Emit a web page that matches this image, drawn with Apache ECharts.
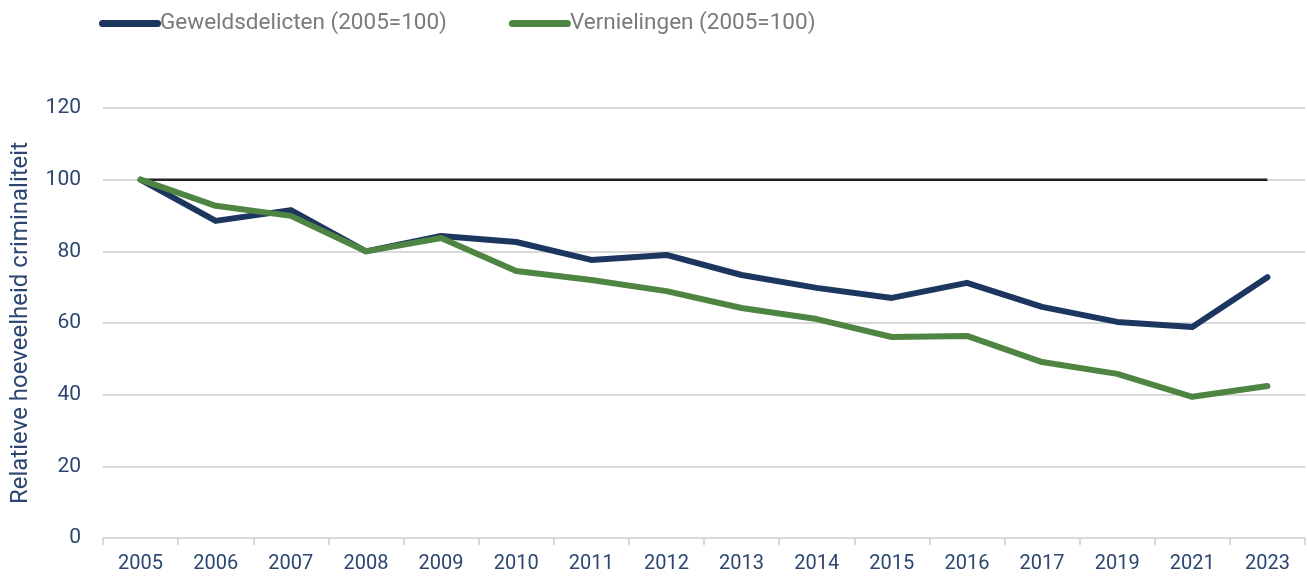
<!DOCTYPE html>
<html><head><meta charset="utf-8">
<script src="https://cdn.jsdelivr.net/npm/echarts@6/dist/echarts.min.js"></script>
<style>html,body{margin:0;padding:0;background:#fff}#c{width:1307px;height:576px}</style>
</head><body><div id="c"></div>
<script>
const categories = ['2005','2006','2007','2008','2009','2010','2011','2012','2013','2014','2015','2016','2017','2019','2021','2023'];
const geweld = [100, 88.5, 91.5, 80, 84.3, 82.6, 77.6, 79, 73.4, 69.8, 67, 71.2, 64.5, 60.3, 58.9, 72.8];
const vernielingen = [100, 92.7, 89.9, 80, 83.7, 74.5, 72, 68.9, 64.2, 61.1, 56.1, 56.4, 49.1, 45.8, 39.4, 42.4];
const baseline = [100,100,100,100,100,100,100,100,100,100,100,100,100,100,100,100];
const yTicks = [0, 20, 40, 60, 80, 100, 120];

const navy = '#1c365f', green = '#4f8542', labelColor = '#2c4670';
const chart = echarts.init(document.getElementById('c'));
chart.setOption({
  animation: false,
  textStyle: {fontFamily: 'Roboto'},
  legend: {
    left: 94, top: 7, itemGap: 62, itemWidth: 62, itemHeight: 7,
    icon: 'path://M3.5,0 L58.5,0 A3.5,3.5 0 0 1 58.5,7 L3.5,7 A3.5,3.5 0 0 1 3.5,0 Z',
    data: ['Geweldsdelicten (2005=100)', 'Vernielingen (2005=100)'],
    textStyle: {color: '#7a7a7a', fontSize: 22.5, padding: [0,0,0,-6]}
  },
  grid: {left: 103, right: 2, top: 108, bottom: 38, containLabel: false},
  xAxis: {
    type: 'category', data: categories, boundaryGap: true,
    axisLine: {lineStyle: {color: '#d9d9d9', width: 2}},
    axisTick: {show: true, length: 7, lineStyle: {color: '#d9d9d9', width: 2}},
    axisLabel: {color: labelColor, fontSize: 20, margin: 16}
  },
  yAxis: {
    type: 'value', min: yTicks[0], max: yTicks[yTicks.length-1], interval: 20,
    name: 'Relatieve hoeveelheid criminaliteit', nameLocation: 'middle', nameGap: 70, nameRotate: 90,
    nameTextStyle: {color: labelColor, fontSize: 24},
    axisLine: {show: false}, axisTick: {show: false},
    axisLabel: {color: labelColor, fontSize: 21, margin: 22},
    splitLine: {lineStyle: {color: '#d9d9d9', width: 2}}
  },
  series: [
    {name: 'baseline', type: 'line', data: baseline, symbol: 'none', lineStyle: {color: '#222', width: 2.5}, itemStyle: {color: '#222'}, z: 1},
    {name: 'Geweldsdelicten (2005=100)', type: 'line', data: geweld, symbol: 'none', lineStyle: {color: navy, width: 6, cap: 'round', join: 'round'}, itemStyle: {color: navy}, z: 2},
    {name: 'Vernielingen (2005=100)', type: 'line', data: vernielingen, symbol: 'none', lineStyle: {color: green, width: 6, cap: 'round', join: 'round'}, itemStyle: {color: green}, z: 3}
  ]
});
</script></body></html>
